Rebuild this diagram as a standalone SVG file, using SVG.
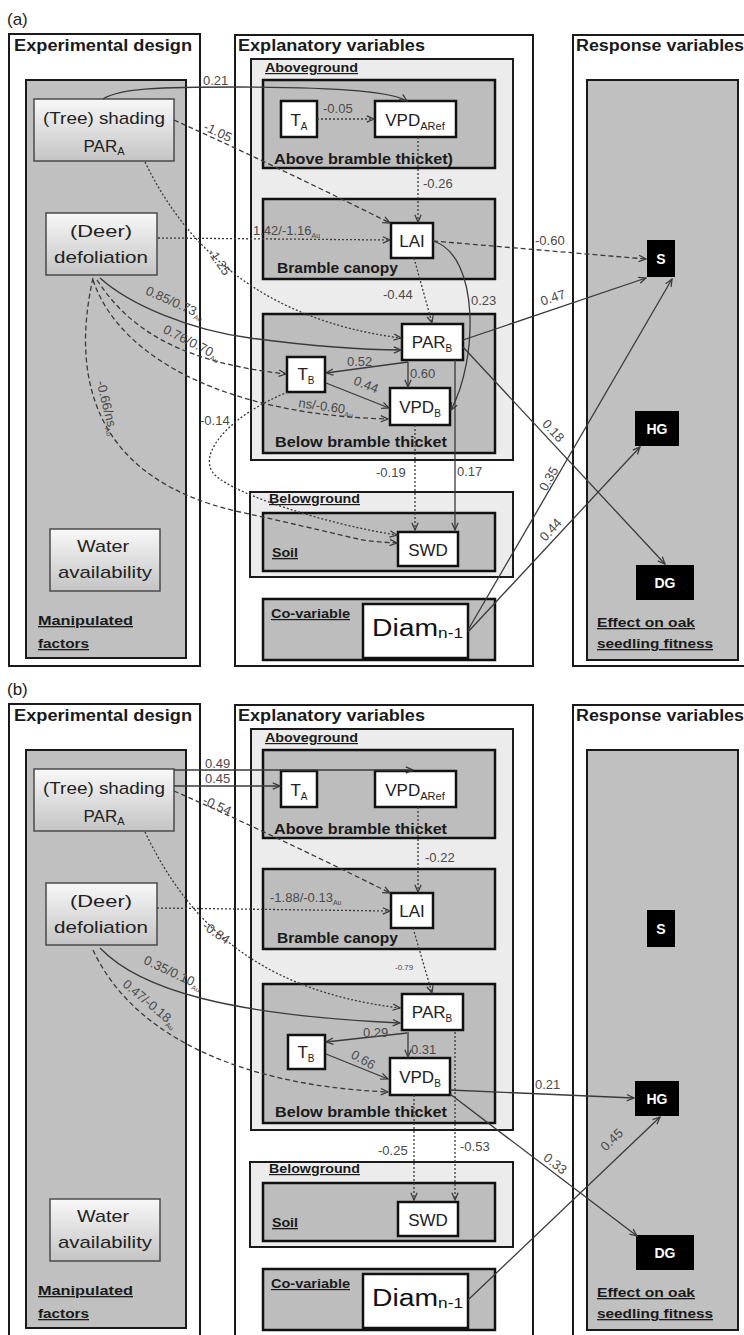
<svg xmlns="http://www.w3.org/2000/svg" width="744" height="1335" viewBox="0 0 744 1335">
<defs>
<linearGradient id="grad" x1="0" y1="0" x2="0" y2="1">
<stop offset="0" stop-color="#f8f8f8"/>
<stop offset="1" stop-color="#c4c4c4"/>
</linearGradient>
<marker id="ah" viewBox="0 0 10 10" refX="9" refY="5" markerWidth="9" markerHeight="9" markerUnits="userSpaceOnUse" orient="auto">
<path d="M1,1.5 L9,5 L1,8.5" fill="none" stroke="#3a3a3a" stroke-width="1.4"/>
</marker>
<style>
text{font-family:"Liberation Sans",Arial,sans-serif}
.panel{fill:#fff;stroke:#1a1a1a;stroke-width:2}
.gray{fill:#c0c0c0;stroke:#1a1a1a;stroke-width:2}
.light{fill:#ececec;stroke:#1a1a1a;stroke-width:2}
.sub{fill:#bdbdbd;stroke:#111;stroke-width:2.5}
.b{font-weight:bold;fill:#1a1a1a}
.ul{text-decoration:underline}
.t16{font-size:16px}
.t15{font-size:15px}
.t13{font-size:13px}
.t12{font-size:12px}
.grad{fill:url(#grad);stroke:#4a4a4a;stroke-width:1.5}
.wbox{fill:#fff;stroke:#111;stroke-width:2.5}
.bbox{fill:#000}
.nt{font-size:17px;fill:#222;text-anchor:middle}
.bt{font-size:14px;font-weight:bold;fill:#fff;text-anchor:middle}
.s{fill:none;stroke:#3a3a3a;stroke-width:1.3;marker-end:url(#ah)}
.da{stroke-dasharray:5,3}
.do{stroke-dasharray:2,2}
.lb{font-size:13px;fill:#4a4a4a}
.lbc{text-anchor:middle}
.au{font-size:7px}
</style>
</defs>

<g id="panel-a">
<text x="7" y="25" font-size="17" fill="#222">(a)</text>
<g id="a-experimental-design">
<rect class="panel" x="9" y="34" width="191" height="632"/>
<text class="b t16" x="14" y="51" textLength="178" lengthAdjust="spacingAndGlyphs">Experimental design</text>
<rect class="gray" x="26" y="80" width="160" height="578"/>
<text class="b ul t13" x="38" y="625" textLength="95" lengthAdjust="spacingAndGlyphs">Manipulated</text>
<text class="b ul t13" x="38" y="648" textLength="51" lengthAdjust="spacingAndGlyphs">factors</text>
</g>
<g id="a-explanatory-variables">
<rect class="panel" x="235" y="35" width="298" height="631"/>
<text class="b t16" x="238" y="51" textLength="187" lengthAdjust="spacingAndGlyphs">Explanatory variables</text>
<rect class="light" x="251" y="59" width="262" height="401"/>
<text class="b ul t12" x="265" y="72" textLength="93" lengthAdjust="spacingAndGlyphs">Aboveground</text>
<rect class="sub" x="263" y="80" width="232" height="88"/>
<text class="b t15" x="274" y="164" textLength="179" lengthAdjust="spacingAndGlyphs">Above bramble thicket)</text>
<rect class="sub" x="263" y="199" width="232" height="80"/>
<text class="b t15" x="277" y="273" textLength="121" lengthAdjust="spacingAndGlyphs">Bramble canopy</text>
<rect class="sub" x="263" y="314" width="232" height="139"/>
<text class="b t15" x="275" y="447" textLength="172" lengthAdjust="spacingAndGlyphs">Below bramble thicket</text>
<rect class="light" x="250" y="492" width="263" height="85"/>
<text class="b ul t12" x="269" y="503" textLength="91" lengthAdjust="spacingAndGlyphs">Belowground</text>
<rect class="sub" x="263" y="513" width="232" height="58"/>
<text class="b ul t13" x="272" y="557" textLength="26" lengthAdjust="spacingAndGlyphs">Soil</text>
<rect class="sub" x="263" y="599" width="232" height="61"/>
<text class="b ul t12" x="271" y="618" textLength="79" lengthAdjust="spacingAndGlyphs">Co-variable</text>
</g>
<g id="a-response-variables">
<rect class="panel" x="573" y="35" width="178" height="631"/>
<text class="b t16" x="576" y="51" textLength="168" lengthAdjust="spacingAndGlyphs">Response variables</text>
<rect class="gray" x="587" y="80" width="151" height="580"/>
<text class="b ul t13" x="597" y="627" textLength="98" lengthAdjust="spacingAndGlyphs">Effect on oak</text>
<text class="b ul t13" x="597" y="648" textLength="116" lengthAdjust="spacingAndGlyphs">seedling fitness</text>
</g>

<g id="a-node-shading"><rect class="grad" x="34" y="99" width="140" height="62"/>
<text class="nt" x="104" y="124" textLength="122" lengthAdjust="spacingAndGlyphs">(Tree) shading</text>
<text class="nt" x="104" y="152">PAR<tspan font-size="11" dy="3">A</tspan></text></g>
<g id="a-node-deer"><rect class="grad" x="46" y="213" width="111" height="62"/>
<text class="nt" x="101" y="237" textLength="62" lengthAdjust="spacingAndGlyphs">(Deer)</text>
<text class="nt" x="101" y="263" textLength="94" lengthAdjust="spacingAndGlyphs">defoliation</text></g>
<g id="a-node-water"><rect class="grad" x="50" y="529" width="110" height="62"/>
<text class="nt" x="103" y="552" textLength="52" lengthAdjust="spacingAndGlyphs">Water</text>
<text class="nt" x="105" y="578" textLength="94" lengthAdjust="spacingAndGlyphs">availability</text></g>
<g id="a-node-ta"><rect class="wbox" x="281" y="101" width="36" height="36"/>
<text class="nt" x="299" y="126">T<tspan font-size="10" dy="4">A</tspan></text></g>
<g id="a-node-vpdaref"><rect class="wbox" x="375" y="101" width="81" height="36"/>
<text class="nt" x="415" y="126">VPD<tspan font-size="11" dy="4">ARef</tspan></text></g>
<g id="a-node-lai"><rect class="wbox" x="391" y="223" width="42" height="35"/>
<text class="nt" x="412" y="247">LAI</text></g>
<g id="a-node-parb"><rect class="wbox" x="402" y="324" width="61" height="36"/>
<text class="nt" x="432" y="348">PAR<tspan font-size="10" dy="4">B</tspan></text></g>
<g id="a-node-tb"><rect class="wbox" x="287" y="357" width="38" height="35"/>
<text class="nt" x="306" y="380">T<tspan font-size="10" dy="4">B</tspan></text></g>
<g id="a-node-vpdb"><rect class="wbox" x="390" y="388" width="60" height="37"/>
<text class="nt" x="420" y="413">VPD<tspan font-size="10" dy="4">B</tspan></text></g>
<g id="a-node-swd"><rect class="wbox" x="398" y="532" width="60" height="34"/>
<text class="nt" x="428" y="556">SWD</text></g>
<g id="a-node-diam"><rect class="wbox" x="363" y="604" width="105" height="54"/>
<text x="372" y="636" font-size="23" fill="#111" textLength="91" lengthAdjust="spacingAndGlyphs">Diam<tspan font-size="14" dy="2">n-1</tspan></text></g>
<g id="a-node-s"><rect class="bbox" x="647" y="240" width="28" height="37"/><text class="bt" x="661" y="264">S</text></g>
<g id="a-node-hg"><rect class="bbox" x="635" y="411" width="44" height="35"/><text class="bt" x="657" y="434">HG</text></g>
<g id="a-node-dg"><rect class="bbox" x="636" y="565" width="58" height="35"/><text class="bt" x="665" y="588">DG</text></g>

<g id="a-connectors">
<path class="s" d="M103,99 C120,88 160,87 240,87 S390,90 407,101"/>
<text class="lb" x="203" y="85">0.21</text>
<path class="s da" d="M174,120 Q280,168 390,223"/>
<text class="lb lbc" transform="rotate(25 216 136)" x="216" y="136">-1.05</text>
<path class="s do" d="M145,162 C185,245 260,320 401,338"/>
<text class="lb lbc" transform="rotate(55 219 262)" x="219" y="266">-1.25</text>
<path class="s do" d="M158,238 L390,240"/>
<text class="lb" x="253" y="235">1.42/-1.16<tspan class="au" dy="3">Au</tspan></text>
<path class="s" d="M100,278 C130,305 190,330 250,338 S360,350 401,350"/>
<text class="lb lbc" transform="rotate(24 175 303)" x="175" y="307">0.85/0.73<tspan class="au" dy="3">Au</tspan></text>
<path class="s da" d="M97,280 C130,330 180,362 286,374"/>
<text class="lb lbc" transform="rotate(27 192 343)" x="192" y="347">0.76/0.70<tspan class="au" dy="3">Au</tspan></text>
<path class="s da" d="M93,280 C120,360 230,415 388,419"/>
<text class="lb" transform="rotate(8 298 407)" x="298" y="407">ns/-0.60<tspan class="au" dy="3">Au</tspan></text>
<path class="s da" d="M93,278 C70,380 95,480 240,512 S350,540 397,543"/>
<text class="lb lbc" transform="rotate(76 107 408)" x="107" y="412">-0.66/ns<tspan class="au" dy="3">Au</tspan></text>
<path class="s do" d="M288,392 C230,415 195,455 215,475 C235,495 330,525 397,535"/>
<text class="lb" x="200" y="425">-0.14</text>
<path class="s da" d="M433,241 L646,259"/>
<text class="lb" x="535" y="245">-0.60</text>
<path class="s" d="M433,241 C480,255 478,360 451,410"/>
<text class="lb" x="471" y="305">0.23</text>
<path class="s do" d="M414,258 L432,323"/>
<text class="lb" x="383" y="299">-0.44</text>
<path class="s" d="M463,340 L646,278"/>
<text class="lb lbc" transform="rotate(-18 553 298)" x="553" y="302">0.47</text>
<path class="s" d="M408,362 L326,373"/>
<text class="lb" x="347" y="366">0.52</text>
<path class="s" d="M408,362 L408,387"/>
<text class="lb" x="410" y="378">0.60</text>
<path class="s" d="M326,383 L389,408"/>
<text class="lb lbc" transform="rotate(22 366 385)" x="366" y="389">0.44</text>
<path class="s" d="M463,347 L665,564"/>
<text class="lb lbc" transform="rotate(47 553 431)" x="553" y="435">0.18</text>
<path class="s" d="M468,630 L672,279"/>
<text class="lb lbc" transform="rotate(-60 549 479)" x="549" y="483">0.35</text>
<path class="s" d="M468,632 L640,447"/>
<text class="lb lbc" transform="rotate(-47 551 530)" x="551" y="534">0.44</text>
<path class="s do" d="M317,119 L374,119"/>
<text class="lb" x="323" y="113">-0.05</text>
<path class="s do" d="M418,137 L418,222"/>
<text class="lb" x="423" y="188">-0.26</text>
<path class="s do" d="M415,425 L415,530"/>
<text class="lb" x="376" y="477">-0.19</text>
<path class="s" d="M455,360 L455,530"/>
<text class="lb" x="457" y="476">0.17</text>
</g>
</g>

<g id="panel-b" transform="translate(0,670)">
<text x="7" y="25" font-size="17" fill="#222">(b)</text>
<g id="b-experimental-design">
<rect class="panel" x="9" y="34" width="191" height="640"/>
<text class="b t16" x="14" y="51" textLength="178" lengthAdjust="spacingAndGlyphs">Experimental design</text>
<rect class="gray" x="26" y="80" width="160" height="578"/>
<text class="b ul t13" x="38" y="625" textLength="95" lengthAdjust="spacingAndGlyphs">Manipulated</text>
<text class="b ul t13" x="38" y="648" textLength="51" lengthAdjust="spacingAndGlyphs">factors</text>
</g>
<g id="b-explanatory-variables">
<rect class="panel" x="235" y="35" width="298" height="640"/>
<text class="b t16" x="238" y="51" textLength="187" lengthAdjust="spacingAndGlyphs">Explanatory variables</text>
<rect class="light" x="251" y="59" width="262" height="401"/>
<text class="b ul t12" x="265" y="72" textLength="93" lengthAdjust="spacingAndGlyphs">Aboveground</text>
<rect class="sub" x="263" y="80" width="232" height="88"/>
<text class="b t15" x="274" y="164" textLength="173" lengthAdjust="spacingAndGlyphs">Above bramble thicket</text>
<rect class="sub" x="263" y="199" width="232" height="80"/>
<text class="b t15" x="277" y="273" textLength="121" lengthAdjust="spacingAndGlyphs">Bramble canopy</text>
<rect class="sub" x="263" y="314" width="232" height="139"/>
<text class="b t15" x="275" y="447" textLength="172" lengthAdjust="spacingAndGlyphs">Below bramble thicket</text>
<rect class="light" x="250" y="492" width="263" height="85"/>
<text class="b ul t12" x="269" y="503" textLength="91" lengthAdjust="spacingAndGlyphs">Belowground</text>
<rect class="sub" x="263" y="513" width="232" height="58"/>
<text class="b ul t13" x="272" y="557" textLength="26" lengthAdjust="spacingAndGlyphs">Soil</text>
<rect class="sub" x="263" y="599" width="232" height="61"/>
<text class="b ul t12" x="271" y="618" textLength="79" lengthAdjust="spacingAndGlyphs">Co-variable</text>
</g>
<g id="b-response-variables">
<rect class="panel" x="573" y="35" width="178" height="640"/>
<text class="b t16" x="576" y="51" textLength="168" lengthAdjust="spacingAndGlyphs">Response variables</text>
<rect class="gray" x="587" y="80" width="151" height="580"/>
<text class="b ul t13" x="597" y="627" textLength="98" lengthAdjust="spacingAndGlyphs">Effect on oak</text>
<text class="b ul t13" x="597" y="648" textLength="116" lengthAdjust="spacingAndGlyphs">seedling fitness</text>
</g>

<g id="b-node-shading"><rect class="grad" x="34" y="99" width="140" height="62"/>
<text class="nt" x="104" y="124" textLength="122" lengthAdjust="spacingAndGlyphs">(Tree) shading</text>
<text class="nt" x="104" y="152">PAR<tspan font-size="11" dy="3">A</tspan></text></g>
<g id="b-node-deer"><rect class="grad" x="46" y="213" width="111" height="62"/>
<text class="nt" x="101" y="237" textLength="62" lengthAdjust="spacingAndGlyphs">(Deer)</text>
<text class="nt" x="101" y="263" textLength="94" lengthAdjust="spacingAndGlyphs">defoliation</text></g>
<g id="b-node-water"><rect class="grad" x="50" y="529" width="110" height="62"/>
<text class="nt" x="103" y="552" textLength="52" lengthAdjust="spacingAndGlyphs">Water</text>
<text class="nt" x="105" y="578" textLength="94" lengthAdjust="spacingAndGlyphs">availability</text></g>
<g id="b-node-ta"><rect class="wbox" x="281" y="101" width="36" height="36"/>
<text class="nt" x="299" y="126">T<tspan font-size="10" dy="4">A</tspan></text></g>
<g id="b-node-vpdaref"><rect class="wbox" x="375" y="101" width="81" height="36"/>
<text class="nt" x="415" y="126">VPD<tspan font-size="11" dy="4">ARef</tspan></text></g>
<g id="b-node-lai"><rect class="wbox" x="391" y="223" width="42" height="35"/>
<text class="nt" x="412" y="247">LAI</text></g>
<g id="b-node-parb"><rect class="wbox" x="402" y="324" width="61" height="36"/>
<text class="nt" x="432" y="348">PAR<tspan font-size="10" dy="4">B</tspan></text></g>
<g id="b-node-tb"><rect class="wbox" x="288" y="365" width="37" height="34"/>
<text class="nt" x="306" y="388">T<tspan font-size="10" dy="4">B</tspan></text></g>
<g id="b-node-vpdb"><rect class="wbox" x="390" y="388" width="60" height="37"/>
<text class="nt" x="420" y="413">VPD<tspan font-size="10" dy="4">B</tspan></text></g>
<g id="b-node-swd"><rect class="wbox" x="398" y="532" width="60" height="34"/>
<text class="nt" x="428" y="556">SWD</text></g>
<g id="b-node-diam"><rect class="wbox" x="363" y="604" width="105" height="54"/>
<text x="372" y="636" font-size="23" fill="#111" textLength="91" lengthAdjust="spacingAndGlyphs">Diam<tspan font-size="14" dy="2">n-1</tspan></text></g>
<g id="b-node-s"><rect class="bbox" x="647" y="240" width="28" height="37"/><text class="bt" x="661" y="264">S</text></g>
<g id="b-node-hg"><rect class="bbox" x="635" y="411" width="44" height="35"/><text class="bt" x="657" y="434">HG</text></g>
<g id="b-node-dg"><rect class="bbox" x="636" y="565" width="58" height="35"/><text class="bt" x="665" y="588">DG</text></g>

<g id="b-connectors">
<path class="s" d="M174,100 L413,100"/>
<text class="lb" x="205" y="98">0.49</text>
<path class="s" d="M174,116 L280,116"/>
<text class="lb" x="205" y="113">0.45</text>
<path class="s da" d="M174,121 Q280,168 390,223"/>
<text class="lb lbc" transform="rotate(25 217 136)" x="217" y="140">-0.54</text>
<path class="s do" d="M145,162 C185,245 250,320 400,338"/>
<text class="lb lbc" transform="rotate(35 216 263)" x="216" y="267">-0.84</text>
<path class="s do" d="M157,238 L390,241"/>
<text class="lb" x="270" y="232">-1.88/-0.13<tspan class="au" dy="3">Au</tspan></text>
<path class="s" d="M100,278 C140,320 230,345 400,353"/>
<text class="lb lbc" transform="rotate(25 173 303)" x="173" y="307">0.35/0.10<tspan class="au" dy="3">Au</tspan></text>
<path class="s da" d="M93,280 C130,360 230,415 388,422"/>
<text class="lb lbc" transform="rotate(40 150 334)" x="150" y="338">0.47/-0.18<tspan class="au" dy="3">Au</tspan></text>
<path class="s do" d="M418,137 L418,222"/>
<text class="lb" x="425" y="192">-0.22</text>
<path class="s do" d="M413,258 L432,323"/>
<text class="lb" x="395" y="300" font-size="8" style="font-size:8px">-0.79</text>
<path class="s" d="M407,363 L326,372"/>
<text class="lb" x="363" y="367">0.29</text>
<path class="s" d="M408,362 L408,387"/>
<text class="lb" x="411" y="384">0.31</text>
<path class="s" d="M326,384 L388,409"/>
<text class="lb lbc" transform="rotate(30 363 390)" x="363" y="394">0.66</text>
<path class="s do" d="M455,362 L455,530"/>
<text class="lb" x="460" y="481">-0.53</text>
<path class="s do" d="M414,425 L414,530"/>
<text class="lb" x="378" y="485">-0.25</text>
<path class="s" d="M450,420 L634,428"/>
<text class="lb" x="535" y="419">0.21</text>
<path class="s" d="M450,424 L637,566"/>
<text class="lb lbc" transform="rotate(38 555 494)" x="555" y="498">0.33</text>
<path class="s" d="M468,630 L660,447"/>
<text class="lb lbc" transform="rotate(-44 612 470)" x="612" y="474">0.45</text>
</g>
</g>
</svg>
